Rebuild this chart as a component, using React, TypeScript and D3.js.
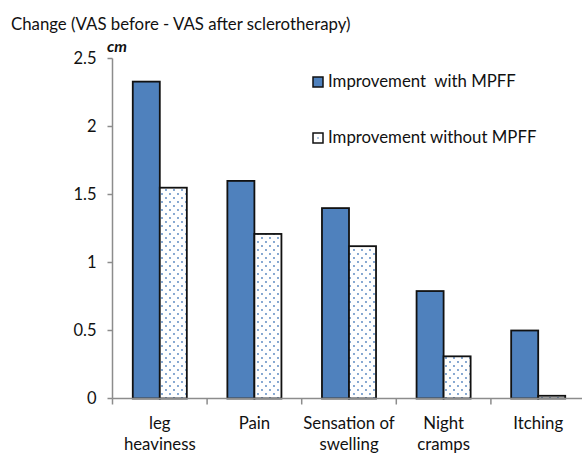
import React from "react";
import * as d3 from "d3";

const categories: string[][] = [
  ["leg", "heaviness"],
  ["Pain"],
  ["Sensation of", "swelling"],
  ["Night", "cramps"],
  ["Itching"],
];
const withMPFF = [2.33, 1.6, 1.4, 0.79, 0.5];
const withoutMPFF = [1.55, 1.21, 1.12, 0.31, 0.02];
const yTicks = [0, 0.5, 1, 1.5, 2, 2.5];
const seriesNames = ["Improvement  with MPFF", "Improvement without MPFF"];
const title = "Change (VAS before - VAS after sclerotherapy)";

const W = 582;
const H = 454;
const FONT = "Lato, 'Open Sans', sans-serif";

export default function App() {
  const x0 = 112.5;
  const x1 = 585.5;
  const yTop = 58.5;
  const yBot = 398.5;
  const idx = categories.map((_, i) => String(i));
  const x = d3.scaleBand<string>().domain(idx).range([x0, x1]).paddingInner(0).paddingOuter(0);
  const inner = d3.scaleBand<string>().domain(["a", "b"]).range([0, x.bandwidth()]).paddingOuter(0.75).paddingInner(0);
  const y = d3.scaleLinear().domain([0, 2.5]).range([yBot, yTop]);
  const blue = "#4f81bd";
  const axisColor = "#8c8c8c";

  return (
    <svg width={W} height={H} style={{ position: "absolute", left: 0, top: 0, background: "#fff" }} fontFamily={FONT}>
      <defs>
        <pattern id="dots" width="8" height="8" patternUnits="userSpaceOnUse">
          <rect width="8" height="8" fill="#fff" />
          <circle cx="2" cy="2" r="0.9" fill={blue} />
          <circle cx="6" cy="6" r="0.9" fill={blue} />
        </pattern>
      </defs>
      <rect width={W} height={H} fill="#fff" />
      <text x={11} y={30} fontSize={16.8} fill="#111">{title}</text>
      <text x={107} y={52} fontSize={16} fontWeight="bold" fontStyle="italic" fill="#111">cm</text>

      {/* y axis */}
      <line x1={x0} x2={x0} y1={yTop} y2={yBot} stroke={axisColor} strokeWidth={1.5} />
      {yTicks.map((t) => (
        <g key={t}>
          <line x1={x0 - 5} x2={x0} y1={y(t)} y2={y(t)} stroke={axisColor} strokeWidth={1.5} />
          <text x={x0 - 16} y={y(t)} dy="0.35em" textAnchor="end" fontSize={16.5} fill="#111">{t}</text>
        </g>
      ))}

      {/* bars */}
      {categories.map((c, i) => {
        const bx = x(String(i))!;
        return (
          <g key={i}>
            <rect x={bx + inner("a")!} y={y(withMPFF[i])} width={inner.bandwidth()} height={yBot - y(withMPFF[i])} fill={blue} stroke="#111" strokeWidth={1.8} />
            <rect x={bx + inner("b")!} y={y(withoutMPFF[i])} width={inner.bandwidth()} height={yBot - y(withoutMPFF[i])} fill="url(#dots)" stroke="#111" strokeWidth={1.8} />
          </g>
        );
      })}

      {/* x axis */}
      <line x1={x0} x2={x1} y1={yBot} y2={yBot} stroke={axisColor} strokeWidth={1.5} />
      {categories.map((_, i) => (
        <line key={i} x1={x(String(i))!} x2={x(String(i))!} y1={yBot} y2={yBot + 6} stroke={axisColor} strokeWidth={1.5} />
      ))}
      {categories.map((lines, i) => (
        <text key={i} x={x(String(i))! + x.bandwidth() / 2} y={429} textAnchor="middle" fontSize={16.8} fill="#111">
          {lines.map((l, j) => (
            <tspan key={j} x={x(String(i))! + x.bandwidth() / 2} dy={j === 0 ? 0 : 21}>{l}</tspan>
          ))}
        </text>
      ))}

      {/* legend */}
      <rect x={313} y={77} width={10} height={10} fill={blue} stroke="#111" strokeWidth={1.5} />
      <text x={328} y={87} fontSize={16.8} fill="#111" style={{ whiteSpace: "pre" }}>{seriesNames[0]}</text>
      <rect x={313} y={133} width={10} height={10} fill="#fff" stroke="#111" strokeWidth={1.5} />
      <circle cx={318} cy={138} r={0.8} fill={blue} />
      <text x={328} y={143} fontSize={16.8} fill="#111">{seriesNames[1]}</text>
    </svg>
  );
}
